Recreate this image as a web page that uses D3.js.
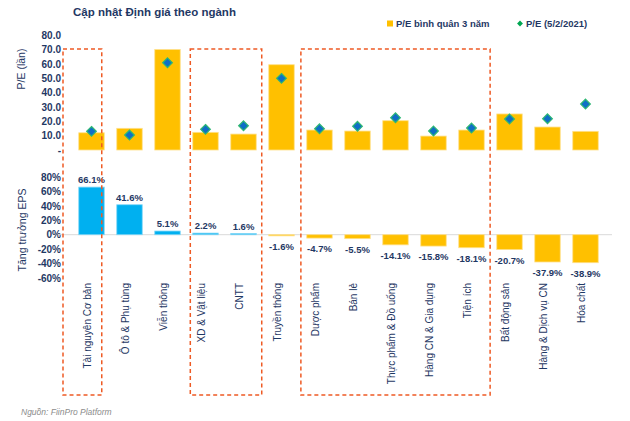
<!DOCTYPE html>
<html><head><meta charset="utf-8">
<script src="https://cdn.jsdelivr.net/npm/d3@7/dist/d3.min.js"></script>
<style>
html,body{margin:0;padding:0;background:#fff;}
text{font-family:"Liberation Sans",Arial,sans-serif;}
</style></head>
<body>
<svg id="chart" width="630" height="421"></svg>
<script>
const categories = ["Tài nguyên Cơ bản","Ô tô & Phụ tùng","Viễn thông","XD & Vật liệu","CNTT","Truyền thông","Dược phẩm","Bán lẻ","Thực phẩm & Đồ uống","Hàng CN & Gia dụng","Tiện ích","Bất động sản","Hàng & Dịch vụ CN","Hóa chất"];
const peAvg = [12.0, 15.1, 70.0, 12.3, 11.1, 59.4, 13.9, 13.2, 20.4, 9.7, 13.9, 25.1, 16.0, 13.0];
const peNow = [13.0, 10.4, 60.8, 14.4, 16.9, 49.9, 14.8, 16.5, 22.5, 13.2, 15.3, 21.6, 21.8, 32.0];
const epsGrowth = [66.1, 41.6, 5.1, 2.2, 1.6, -1.6, -4.7, -5.5, -14.1, -15.8, -18.1, -20.7, -37.9, -38.9];
const peTicks = [0, 10, 20, 30, 40, 50, 60, 70, 80];
const epsTicks = [-60, -40, -20, 0, 20, 40, 60, 80];
const boxStart = [0, 3, 6];
const boxEnd = [0, 4, 10];
const legendLabels = ["P/E bình quân 3 năm", "P/E (5/2/2021)"];

const navy = "#1f3864";
const svg = d3.select("#chart");

const x = d3.scaleBand().domain(categories).range([72.5, 604.5]).paddingInner(0.33).paddingOuter(0.165);
const bw = x.bandwidth(), step = x.step();
const cx = c => x(c) + bw / 2;
const yPE = d3.scaleLinear().domain([0, 70]).range([150, 49.5]);
const yEPS = d3.scaleLinear().domain([-60, 80]).range([277.9, 177.1]);

// Title
svg.append("text").attr("x", 73).attr("y", 16).attr("font-size", 11.5).attr("font-weight", "bold")
  .attr("fill", navy).text("Cập nhật Định giá theo ngành");

// Legend
svg.append("rect").attr("x", 387).attr("y", 20.5).attr("width", 6).attr("height", 6).attr("fill", "#ffc000");
svg.append("text").attr("x", 396).attr("y", 27).attr("font-size", 9.5).attr("font-weight", "bold").attr("fill", navy).text(legendLabels[0]);
svg.append("path").attr("d", d3.symbol(d3.symbolDiamond2, 22)()).attr("transform", "translate(520,23.5)").attr("fill", "#00a651");
svg.append("text").attr("x", 526).attr("y", 27).attr("font-size", 9.5).attr("font-weight", "bold").attr("fill", navy).text(legendLabels[1]);

// Axis titles
svg.append("text").attr("transform", "translate(25,69) rotate(-90)").attr("text-anchor", "middle")
  .attr("font-size", 10.5).attr("fill", navy).text("P/E (lần)");
svg.append("text").attr("transform", "translate(26,230) rotate(-90)").attr("text-anchor", "middle")
  .attr("font-size", 10.5).attr("fill", navy).text("Tăng trưởng EPS");

// Top axis
const axTop = svg.append("g").attr("transform", "translate(64,0)")
  .call(d3.axisLeft(yPE).tickValues(peTicks).tickSize(0).tickPadding(3).tickFormat(d => d === 0 ? "-" : d.toFixed(1)));
axTop.select(".domain").remove();
axTop.selectAll("text").attr("font-size", 10).attr("font-weight", "bold").attr("fill", navy).attr("font-family", "Liberation Sans, Arial, sans-serif");

// Bottom axis
const axBot = svg.append("g").attr("transform", "translate(64,0)")
  .call(d3.axisLeft(yEPS).tickValues(epsTicks).tickSize(0).tickPadding(3).tickFormat(d => d + "%"));
axBot.select(".domain").remove();
axBot.selectAll("text").attr("font-size", 10).attr("font-weight", "bold").attr("fill", navy).attr("font-family", "Liberation Sans, Arial, sans-serif");

// Zero line bottom
svg.append("line").attr("x1", 58).attr("x2", 612).attr("y1", yEPS(0)).attr("y2", yEPS(0))
  .attr("stroke", "#d9d9d9").attr("stroke-width", 1);

// PE bars
svg.append("g").selectAll("rect").data(categories).join("rect")
  .attr("x", d => x(d)).attr("width", bw)
  .attr("y", (d, i) => yPE(peAvg[i])).attr("height", (d, i) => yPE(0) - yPE(peAvg[i]))
  .attr("fill", "#ffc000").attr("stroke", "#ffe08a").attr("stroke-width", 0.8);

// PE diamonds
svg.append("g").selectAll("path").data(categories).join("path")
  .attr("d", d3.symbol(d3.symbolDiamond2, 60)())
  .attr("transform", (d, i) => `translate(${cx(d)},${yPE(peNow[i])})`)
  .attr("fill", "#0f6fc6").attr("stroke", "#2eb872").attr("stroke-width", 1.2);

// EPS bars
svg.append("g").selectAll("rect").data(categories).join("rect")
  .attr("x", d => x(d)).attr("width", bw)
  .attr("y", (d, i) => yEPS(Math.max(0, epsGrowth[i])))
  .attr("height", (d, i) => Math.abs(yEPS(epsGrowth[i]) - yEPS(0)))
  .attr("fill", (d, i) => epsGrowth[i] >= 0 ? "#00b0f0" : "#ffc000")
  .attr("stroke", (d, i) => epsGrowth[i] >= 0 ? "#7fd6f7" : "#ffe08a").attr("stroke-width", 0.8);

// EPS labels
svg.append("g").selectAll("text").data(categories).join("text")
  .attr("x", d => cx(d)).attr("text-anchor", "middle")
  .attr("y", (d, i) => epsGrowth[i] >= 0 ? yEPS(epsGrowth[i]) - 4 : yEPS(epsGrowth[i]) + 14)
  .attr("font-size", 9.5).attr("font-weight", "bold").attr("fill", navy)
  .text((d, i) => epsGrowth[i].toFixed(1) + "%");

// Category labels
svg.append("g").selectAll("text").data(categories).join("text")
  .attr("transform", d => `translate(${cx(d) - 4},283) rotate(-90)`)
  .attr("text-anchor", "end").attr("dy", "0.35em")
  .attr("font-size", 10).attr("fill", navy).text(d => d);

// Dashed boxes
const leftOff = [0.75, 0.40, 0.49], rightOff = [0.27, 0.48, 0.49];
svg.append("g").selectAll("rect").data(boxStart).join("rect")
  .attr("x", (s, i) => cx(categories[s]) - leftOff[i] * step)
  .attr("width", (s, i) => (cx(categories[boxEnd[i]]) + rightOff[i] * step) - (cx(categories[s]) - leftOff[i] * step))
  .attr("y", 49).attr("height", 346)
  .attr("fill", "none").attr("stroke", "#ee5a24").attr("stroke-width", 1.5).attr("stroke-dasharray", "4,3");

// Source
svg.append("text").attr("x", 21).attr("y", 415).attr("font-size", 8.5).attr("font-style", "italic")
  .attr("fill", "#8c8c8c").text("Nguồn: FiinPro Platform");
</script>
</body></html>
